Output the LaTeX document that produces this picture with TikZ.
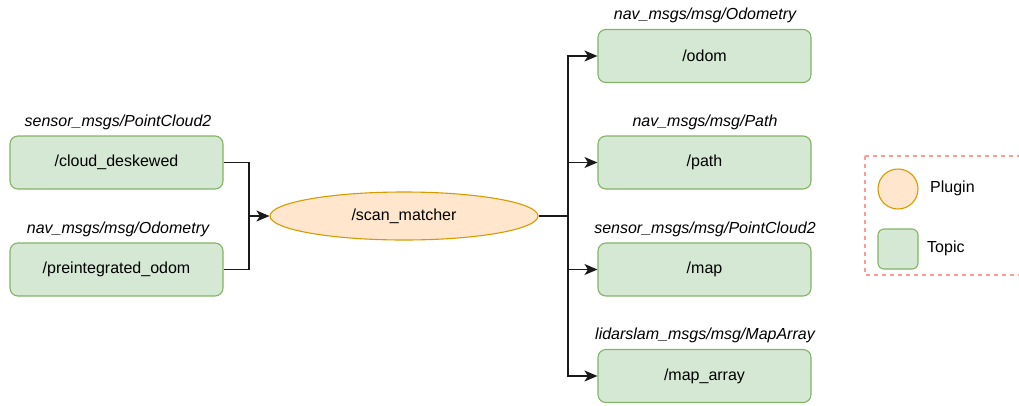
\documentclass[tikz,border=0pt]{standalone}
\usepackage{fontspec}
\setmainfont{Liberation Sans}
\usetikzlibrary{arrows.meta,shapes.geometric}
\definecolor{topicfill}{HTML}{D5E8D4}
\definecolor{topicdraw}{HTML}{82B366}
\definecolor{pluginfill}{HTML}{FFE6CC}
\definecolor{plugindraw}{HTML}{D79B00}
\definecolor{legenddraw}{HTML}{FF9A9A}
\definecolor{wire}{HTML}{1A1A1A}
\newlength{\topicwidth}
\setlength{\topicwidth}{213pt}
\newlength{\topicheight}
\setlength{\topicheight}{53pt}

\begin{document}
\begin{tikzpicture}[x=1pt,y=-1pt,font=\fontsize{16}{19}\selectfont]
  \tikzstyle{topic}=[
       draw=topicdraw,
       fill=topicfill,
       line width=1.1pt,
       rounded corners=8pt,
       minimum width=\topicwidth,
       minimum height=\topicheight,
       inner sep=0pt]
  \tikzstyle{msgtype}=[font=\fontsize{16}{19}\selectfont\itshape]
  \tikzstyle{wire}=[draw=wire,line width=1.4pt]
  \tikzstyle{feed}=[wire,-{Stealth[length=13pt,width=11pt,inset=3.5pt]}]
  \useasboundingbox (0,0) rectangle (1019,405);

  % inputs
  \node[topic] (cloud) at (116.5,162.5) {/cloud\_deskewed};
  \node[msgtype] (cloudtype) at (118,122) {sensor\_msgs/PointCloud2};
  \node[topic] (preodom) at (116.5,269.5) {/preintegrated\_odom};
  \node[msgtype] (preodomtype) at (118,229) {nav\_msgs/msg/Odometry};

  % plugin
  \node[draw=plugindraw,fill=pluginfill,line width=1.1pt,
        shape=ellipse,minimum width=268pt,minimum height=48pt,inner sep=0pt]
        (matcher) at (404,216) {/scan\_matcher};

  % outputs
  \node[topic] (odom) at (704.5,56) {/odom};
  \node[msgtype] (odomtype) at (705,15) {nav\_msgs/msg/Odometry};
  \node[topic] (path) at (704.5,162.5) {/path};
  \node[msgtype] (pathtype) at (705,122) {nav\_msgs/msg/Path};
  \node[topic] (map) at (704.5,269.5) {/map};
  \node[msgtype] (maptype) at (705,229) {sensor\_msgs/msg/PointCloud2};
  \node[topic] (maparray) at (704.5,376) {/map\_array};
  \node[msgtype] (maparraytype) at (705,335) {lidarslam\_msgs/msg/MapArray};

  \coordinate (joinin) at (249,216);
  \coordinate (joinout) at (568,216);
  \draw[wire] (cloud.east) -| (joinin);
  \draw[wire] (preodom.east) -| (joinin);
  \draw[feed] (joinin) -- (matcher.west);
  \draw[wire] (matcher.east) -- (joinout);
  \foreach \t in {odom,path,map,maparray}
    \draw[feed] (joinout) |- (\t.west);

  % legend
  \draw[legenddraw,line width=1.1pt,dash pattern=on 4pt off 4pt]
       (865,156) rectangle (1040,275);
  \node[circle,draw=plugindraw,fill=pluginfill,line width=1.1pt,
        minimum size=40pt,inner sep=0pt] (pluginkey) at (898,189) {};
  \node[anchor=west,inner sep=0pt] (pluginlabel) at (930,188) {Plugin};
  \node[draw=topicdraw,fill=topicfill,line width=1.1pt,rounded corners=6pt,
        minimum size=40pt,inner sep=0pt] (topickey) at (898,249) {};
  \node[anchor=west,inner sep=0pt] (topiclabel) at (927,248) {Topic};
\end{tikzpicture}
\end{document}
